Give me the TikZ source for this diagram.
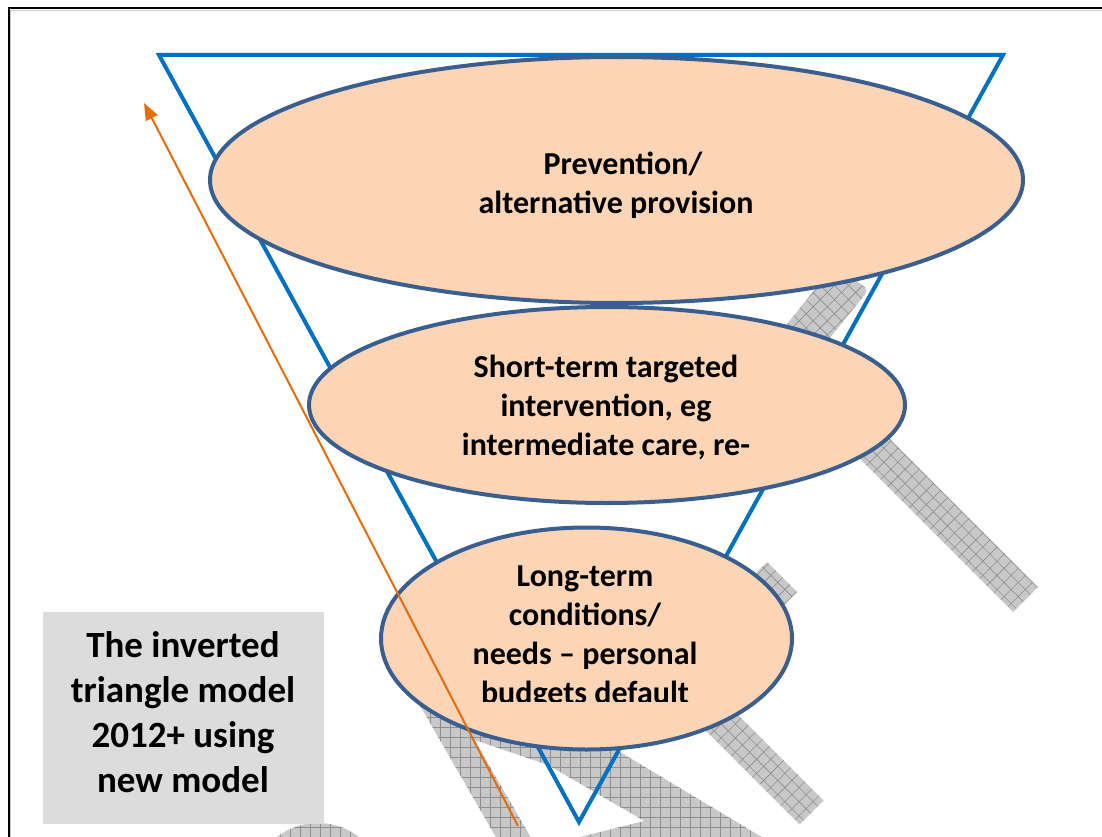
\documentclass[tikz,border=0pt]{standalone}
\usepackage{fontspec}
\setmainfont{Carlito}
\usetikzlibrary{arrows.meta,shapes.geometric,patterns.meta}
\definecolor{tri}{HTML}{0070C0}
\definecolor{ellline}{HTML}{3A5F8E}
\definecolor{ellfill}{HTML}{FBD5B5}
\definecolor{arr}{HTML}{E46C0A}
\definecolor{boxfill}{HTML}{DCDCDC}
\definecolor{wmfill}{HTML}{C8C8C8}
\definecolor{wmline}{HTML}{8E8E8E}
\begin{document}
\begin{tikzpicture}[x=1pt,y=-1pt,
  wm/.style={preaction={fill=wmfill}, pattern={Hatch[angle=#1,distance=10pt,line width=0.6pt]}, pattern color=wmline},
  wm/.default=0,
  oval/.style={ellipse, draw=ellline, line width=4pt, fill=ellfill, inner sep=0pt},
  etext/.style={font=\bfseries\fontsize{32}{39}\selectfont, align=center, anchor=base, inner sep=0pt},
  btext/.style={font=\bfseries\fontsize{37}{45}\selectfont, align=center, anchor=base, inner sep=0pt}]
\useasboundingbox (0,0) rectangle (1102,837);
% frame
\draw[black, line width=2pt] (9,845) -- (9,8.3) -- (1110,8.3);
\draw[black!20, line width=0.8pt] (10.8,845) -- (10.8,10.1) -- (1110,10.1);
% watermark pieces
\path[wm=45, rounded corners=5pt] (835.6,263.8) -- (868.4,290.2) -- (776.4,404.2) -- (743.6,377.8) -- cycle;
\path[wm=45] (812.4,361.6) -- (1037.9,587.1) -- (1013.1,611.9) -- (787.6,386.4) -- cycle;
\path[wm=45] (767,562) -- (797,592) -- (760,629) -- (730,599) -- cycle;
\path[wm=45] (702,679) -- (823.5,800.5) -- (799.5,824.5) -- (678,703) -- cycle;
\path[wm] (435.5,672.5) -- (539.5,852.5) -- (513.5,867.5) -- (409.5,687.5) -- cycle;
\path[wm] (460,656) -- (820,872) -- (820,923) -- (603,797) -- (548,765) -- (460,735) -- cycle;
\path[wm] (660,817) -- (720,850) -- (560,850) -- (560,842) -- cycle;
\path[wm] (318,890) circle (67);
% triangle
\coordinate (tl) at (159,55);
\coordinate (tr) at (1003,55);
\coordinate (tb) at (579,822);
\draw[tri, line width=4pt] (tl) -- (tr) -- (tb) -- cycle;
% ellipses
\node[oval, minimum width=813pt, minimum height=246pt] (e1) at (616.5,180) {};
\node[oval, minimum width=596pt, minimum height=196pt] (e2) at (607,405) {};
\node[oval, minimum width=411pt, minimum height=222pt] (e3) at (586.5,638.5) {};
\node[etext] (t1) at (616,213) {\hspace*{14pt}Prevention/\\alternative provision};
\node[etext] (t2) at (606,455) {Short-term targeted\\intervention, eg\\intermediate care, re-};
\begin{scope}
\clip (370,500) rectangle (800,701.5);
\node[etext] (t3) at (585,703) {Long-term\\conditions/\\needs – personal\\budgets default};
\end{scope}
% arrow
\coordinate (as) at (518,826);
\coordinate (ae) at (144,103);
\draw[arr, line width=2pt, -{Triangle[length=17pt,width=13pt]}] (as) -- (ae);
% box
\node[fill=boxfill, minimum width=281pt, minimum height=212pt, inner sep=0pt] (box) at (183.5,718) {};
\node[btext] (bt) at (183,792) {The inverted\\triangle model\\2012+ using\\new model};
\end{tikzpicture}
\end{document}
